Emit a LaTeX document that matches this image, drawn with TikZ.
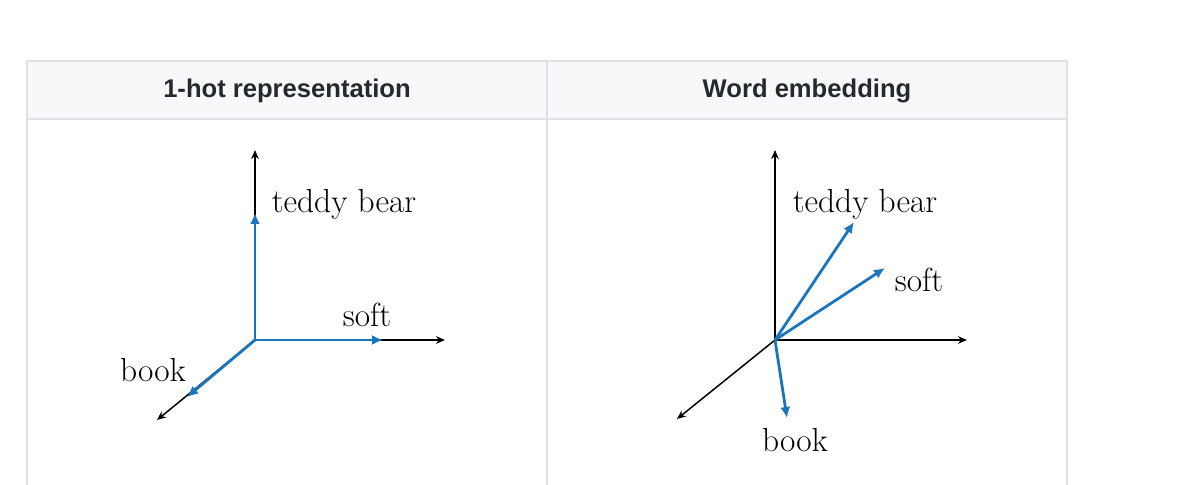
\documentclass[tikz,border=0pt]{standalone}
\usepackage{fontspec}
\newfontfamily\hdrfont{Liberation Sans}
\usetikzlibrary{arrows.meta}
\definecolor{vecblue}{HTML}{1B75BC}
\definecolor{gridline}{HTML}{DFE2E5}
\definecolor{headfill}{HTML}{F6F8FA}
\definecolor{headtext}{HTML}{24292E}
\begin{document}
\begin{tikzpicture}[x=0.5pt,y=-0.5pt,
  axis/.style={draw=black,line width=0.75pt,-{Stealth[length=4.5pt,width=3.8pt]}},
  vec/.style={draw=vecblue,line width=1.4pt,-{Latex[length=5.5pt,width=5pt]}},
  lbl/.style={font=\fontsize{16.7}{20}\selectfont,inner sep=0pt,text=black},
  hdr/.style={font=\hdrfont\bfseries\fontsize{12.8}{15}\selectfont,text=headtext,inner sep=0pt},
  border/.style={draw=gridline,line width=0.6pt}]
\useasboundingbox (0,0) rectangle (1200,485);
% table
\fill[headfill] (27,61) rectangle (1067,119);
\draw[border] (27,495) -- (27,61) -- (1067,61) -- (1067,495);
\draw[border] (27,119) -- (1067,119);
\draw[border] (547,61) -- (547,495);
\node[hdr] (h1) at (287,91) {1-hot representation};
\node[hdr] (h2) at (807,91) {Word embedding};
% left panel
\coordinate (oL) at (255,340);
\coordinate (yL) at (255,150);
\coordinate (xL) at (445,340);
\coordinate (zL) at (157,420);
\coordinate (tL) at (255,213);
\coordinate (sL) at (383,340);
\coordinate (bL) at (187,397);
\draw[axis] (oL) -- (yL);
\draw[axis] (oL) -- (xL);
\draw[axis] (oL) -- (zL);
\draw[vec] (oL) -- (tL);
\draw[vec] (oL) -- (sL);
\draw[vec] (oL) -- (bL);
\node[lbl] (lt) at (344,204) {teddy bear};
\node[lbl] (ls) at (367,315) {soft};
\node[lbl] (lb) at (153,370) {book};
% right panel
\coordinate (oR) at (775,340);
\coordinate (yR) at (775,150);
\coordinate (xR) at (967,340);
\coordinate (zR) at (677,419);
\coordinate (tR) at (854,222);
\coordinate (sR) at (885,268);
\coordinate (bR) at (787,418);
\draw[axis] (oR) -- (yR);
\draw[axis] (oR) -- (xR);
\draw[axis] (oR) -- (zR);
\draw[vec] (oR) -- (tR);
\draw[vec] (oR) -- (sR);
\draw[vec] (oR) -- (bR);
\node[lbl] (rt) at (865,204) {teddy bear};
\node[lbl] (rs) at (919,280) {soft};
\node[lbl] (rb) at (795,440) {book};
\end{tikzpicture}
\end{document}
